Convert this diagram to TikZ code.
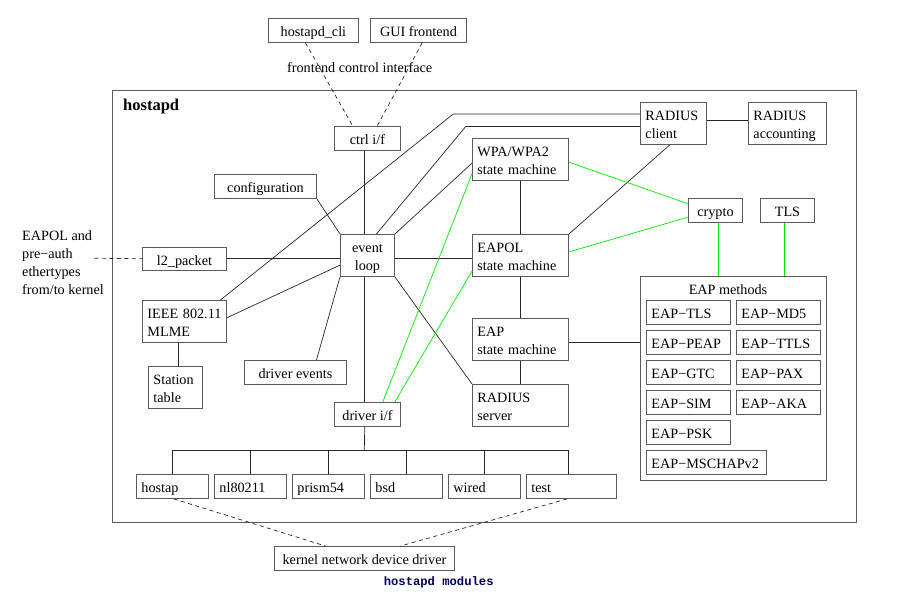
\documentclass[tikz,border=0pt]{standalone}
\usepackage{fontspec}
\setmainfont{Liberation Serif}
\newfontfamily\capfont{Liberation Mono}
\usetikzlibrary{calc}
\definecolor{boxgray}{RGB}{90,90,90}
\definecolor{lgreen}{RGB}{0,235,0}
\definecolor{capblue}{RGB}{0,0,96}
\newcommand\twolines[3][12.4pt]{\rule{0pt}{#1}#2\\\smash{#3}}
\tikzset{
  base/.style={draw=boxgray, line width=0.9pt, rectangle, anchor=north west,
    font=\fontsize{14.2}{18}\selectfont, inner sep=0pt},
  cbox/.style={base, align=center},
  lbox/.style={base, align=left, inner xsep=5pt},
  sl/.style={text height=13pt, text depth=0pt},
  conn/.style={line width=0.7pt, black!85},
  gconn/.style={line width=0.7pt, lgreen},
  dconn/.style={line width=0.7pt, black!85, dash pattern=on 4pt off 3.5pt},
  lbl/.style={font=\fontsize{14.2}{18}\selectfont, inner sep=0pt},
}
\begin{document}
\begin{tikzpicture}[x=1pt,y=-1pt]
\useasboundingbox (0,0) rectangle (920,597);

% outer hostapd frame
\node[base, minimum width=744pt, minimum height=432pt] (frame) at (112,90) {};
\node[lbl, anchor=west, font=\fontsize{16.5}{18}\selectfont\bfseries] (title) at (123,106.7) {hostapd};

% frontends
\node[cbox, sl, minimum width=90pt, minimum height=24pt] (cli) at (268,18) {hostapd\_cli};
\node[cbox, sl, minimum width=96pt, minimum height=24pt] (gui) at (370,18) {GUI frontend};
\node[lbl] (fci) at (359.7,67.7) {frontend control interface};

% core
\node[cbox, sl, minimum width=66pt, minimum height=24pt] (ctrl) at (334,126) {ctrl i/f};
\node[cbox, sl, minimum width=102pt, minimum height=24pt] (config) at (214,174) {configuration};
\node[cbox, minimum width=54pt, minimum height=42pt] (loop) at (340,234) {\twolines[13pt]{event}{loop}};
\node[cbox, sl, minimum width=84pt, minimum height=23.5pt] (l2) at (142,246.5) {l2\_packet};
\node[lbox, text width=74pt, minimum height=42pt] (ieee) at (142,300) {\twolines{\mbox{IEEE 802.11}}{MLME}};
\node[lbox, text width=44pt, minimum height=42pt] (station) at (148,366) {\twolines{Station}{table}};
\node[cbox, sl, minimum width=102pt, minimum height=24pt] (devents) at (244,360) {driver events};
\node[cbox, sl, minimum width=66pt, minimum height=24pt] (drvif) at (334,402) {driver i/f};

% state machines
\node[lbox, text width=86pt, minimum height=42pt] (wpa) at (472,138) {\twolines{WPA/WPA2}{state machine}};
\node[lbox, text width=86pt, minimum height=42pt] (eapol) at (472,234) {\twolines{EAPOL}{state machine}};
\node[lbox, text width=86pt, minimum height=42pt] (eap) at (472,318) {\twolines{EAP}{state machine}};
\node[lbox, text width=86pt, minimum height=42pt] (rserver) at (472,384) {\twolines{RADIUS}{server}};

% radius
\node[lbox, text width=56pt, minimum height=42pt] (rclient) at (640,102) {\twolines{RADIUS}{client}};
\node[lbox, text width=68pt, minimum height=42pt] (racct) at (748,102) {\twolines{RADIUS}{accounting}};
\node[cbox, sl, minimum width=54pt, minimum height=24pt] (crypto) at (688,198) {crypto};
\node[cbox, sl, minimum width=54pt, minimum height=24pt] (tls) at (760,198) {TLS};

% EAP methods
\node[base, minimum width=186pt, minimum height=204pt] (methods) at (640,276) {};
\node[lbl] (mtitle) at (728,289.3) {EAP methods};
\node[lbox, sl, text width=74pt, minimum height=24pt] (m1) at (646,300) {EAP−TLS};
\node[lbox, sl, text width=74pt, minimum height=24pt] (m2) at (736,300) {EAP−MD5};
\node[lbox, sl, text width=74pt, minimum height=24pt] (m3) at (646,330) {EAP−PEAP};
\node[lbox, sl, text width=74pt, minimum height=24pt] (m4) at (736,330) {EAP−TTLS};
\node[lbox, sl, text width=74pt, minimum height=24pt] (m5) at (646,360) {EAP−GTC};
\node[lbox, sl, text width=74pt, minimum height=24pt] (m6) at (736,360) {EAP−PAX};
\node[lbox, sl, text width=74pt, minimum height=24pt] (m7) at (646,390) {EAP−SIM};
\node[lbox, sl, text width=74pt, minimum height=24pt] (m8) at (736,390) {EAP−AKA};
\node[lbox, sl, text width=74pt, minimum height=24pt] (m9) at (646,420) {EAP−PSK};
\node[lbox, sl, text width=110pt, minimum height=24pt] (m10) at (646,450) {EAP−MSCHAPv2};

% drivers
\node[lbox, sl, text width=62pt, minimum height=24pt] (hostap) at (136,474) {hostap};
\node[lbox, sl, text width=62pt, minimum height=24pt] (nl) at (214,474) {nl80211};
\node[lbox, sl, text width=62pt, minimum height=24pt] (prism) at (292,474) {prism54};
\node[lbox, sl, text width=62pt, minimum height=24pt] (bsd) at (370,474) {bsd};
\node[lbox, sl, text width=62pt, minimum height=24pt] (wired) at (448,474) {wired};
\node[lbox, sl, text width=80pt, minimum height=24pt] (test) at (526,474) {test};
\node[cbox, sl, minimum width=180pt, minimum height=24pt] (kernel) at (274,546) {kernel network device driver};

% left text and caption
\node[lbl, anchor=west, align=left] (eapoltxt) at (22,262.7) {EAPOL and\\pre−auth\\ethertypes\\from/to kernel};
\node[lbl, font=\fontsize{12.2}{14}\capfont\bfseries, text=capblue] (caption) at (438.7,582.7) {hostapd modules};

% coordinates for bends and junctions
\coordinate (k1) at (453.3,114);
\coordinate (k2) at (465.7,126.5);
\coordinate (eapolend) at (94.3,258.3);
\coordinate (bus) at (364.3,450);
\coordinate (testtop) at ($(test.north)+(-2.7,0)$);
\coordinate (cryptobot) at ($(crypto.south)+(3.3,0)$);
\coordinate (tlsbot) at ($(tls.south)+(-2.7,0)$);

% dashed frontend links
\draw[dconn] ($(cli.south)+(-8,0)$) -- ($(ctrl.north)+(-14.7,0)$);
\draw[dconn] ($(gui.south)+(3.7,0)$) -- ($(ctrl.north)+(9.7,0)$);

% black connectors
\draw[conn] ($(ctrl.south)+(-2.7,0)$) -- ($(loop.north)+(-2.7,0)$);
\draw[conn] (config.south east) -- (loop.north west);
\draw[conn] ($(loop.north)+(9,0)$) -- (k2) -- (k2 -| rclient.west);
\draw[conn] ($(ieee.north)+(36,0)$) -- (k1) -- (k1 -| rclient.west);
\draw[conn] (loop.north east) -- ($(wpa.west)+(0,3.7)$);
\draw[conn] (l2.east) -- (l2.east -| loop.west);
\draw[conn] (loop.east |- l2.east) -- (eapol.west |- l2.east);
\draw[conn] ($(loop.west)+(0,9.7)$) -- ($(ieee.east)+(0,-3.7)$);
\draw[conn] ($(devents.north)+(21,0)$) -- (loop.south west);
\draw[conn] ($(loop.south)+(-2.7,0)$) -- ($(drvif.north)+(-2.7,0)$);
\draw[conn] (loop.south east) -- (rserver.north west);
\draw[conn] (wpa.south) -- (eapol.north);
\draw[conn] (eapol.south) -- (eap.north);
\draw[conn] (eap.south) -- (rserver.north);
\draw[conn] (eapol.north east) -- ($(rclient.south)+(-3.7,0)$);
\draw[conn] ($(rclient.east)+(0,-3)$) -- ($(racct.west)+(0,-3)$);
\draw[conn] ($(eap.east)+(0,3)$) -- ($(methods.west)+(0,-36)$);
\draw[conn] ($(ieee.south)+(-5.7,0)$) -- ($(station.north)+(3.3,0)$);

% green connectors
\draw[gconn] ($(drvif.north)+(15.3,0)$) -- ($(wpa.west)+(0,14.3)$);
\draw[gconn] ($(drvif.north)+(27.3,0)$) -- ($(eapol.west)+(0,15.7)$);
\draw[gconn] ($(wpa.east)+(0,2.7)$) -- ($(crypto.west)+(0,-6.7)$);
\draw[gconn] ($(eapol.east)+(0,-3.5)$) -- ($(crypto.west)+(0,6.7)$);
\draw[gconn] (cryptobot) -- (cryptobot |- methods.north);
\draw[gconn] (tlsbot) -- (tlsbot |- methods.north);

% EAPOL dashed
\draw[dconn] (eapolend) -- (l2.west);

% driver tree
\draw[conn] ($(drvif.south)+(-2.7,0)$) -- (bus);
\draw[conn] (hostap.north |- bus) -- (testtop |- bus);
\draw[conn] (hostap.north) -- (hostap.north |- bus);
\draw[conn] (nl.north) -- (nl.north |- bus);
\draw[conn] (prism.north) -- (prism.north |- bus);
\draw[conn] (bsd.north) -- (bsd.north |- bus);
\draw[conn] (wired.north) -- (wired.north |- bus);
\draw[conn] (testtop) -- (testtop |- bus);

% kernel dashed
\draw[dconn] ($(hostap.south)+(1.3,0)$) -- ($(kernel.north)+(-39,0)$);
\draw[dconn] ($(test.south)+(-4.3,0)$) -- ($(kernel.north)+(36,0)$);
\end{tikzpicture}
\end{document}
